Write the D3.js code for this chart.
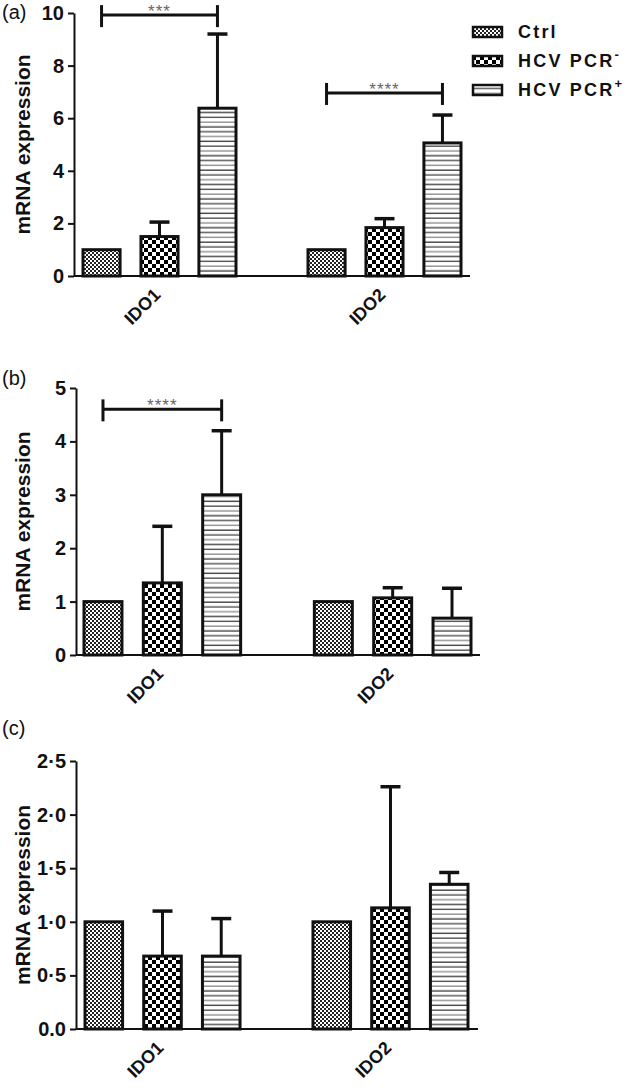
<!DOCTYPE html>
<html>
<head>
<meta charset="utf-8">
<script src="https://cdn.jsdelivr.net/npm/d3@7/dist/d3.min.js"></script>
<style>
  html, body { margin: 0; padding: 0; background: #fff; }
  svg { display: block; font-family: "Liberation Sans", Arial, sans-serif; }
</style>
</head>
<body>
<svg id="chart" width="630" height="1092"></svg>
<script>
// ---------------- data ----------------
const categories = ["IDO1", "IDO2"];
const seriesNames = ["Ctrl", "HCV PCR", "HCV PCR"];
const seriesSup = ["", "-", "+"];

// panel (a)
const meansA = [[1.0, 1.5, 6.38], [1.0, 1.84, 5.06]];
const sdA    = [[0, 0.55, 2.82], [0, 0.34, 1.06]];
const ticksA = [0, 2, 4, 6, 8, 10];
const tickLabelsA = ["0", "2", "4", "6", "8", "10"];
const sigA = [
  { cat: 0, from: 0, to: 2, level: 9.92, label: "***" },
  { cat: 1, from: 0, to: 2, level: 6.96, label: "****" }
];

// panel (b)
const meansB = [[1.0, 1.35, 3.0], [1.0, 1.07, 0.69]];
const sdB    = [[0, 1.06, 1.2], [0, 0.19, 0.56]];
const ticksB = [0, 1, 2, 3, 4, 5];
const tickLabelsB = ["0", "1", "2", "3", "4", "5"];
const sigB = [
  { cat: 0, from: 0, to: 2, level: 4.6, label: "****" }
];

// panel (c)
const meansC = [[1.0, 0.68, 0.68], [1.0, 1.13, 1.35]];
const sdC    = [[0, 0.42, 0.35], [0, 1.13, 0.11]];
const ticksC = [0, 0.5, 1.0, 1.5, 2.0, 2.5];
const tickLabelsC = ["0.0", "0·5", "1·0", "1·5", "2·0", "2·5"];
const sigC = [];

// ---------------- layout ----------------
const panels = [
  { tag: "(a)", means: meansA, sd: sdA, ticks: ticksA, labels: tickLabelsA, sig: sigA,
    x0: 74, x1: 470, yTop: 13, yBot: 276, bandL: 83, bandR: 461, tagY: 19 },
  { tag: "(b)", means: meansB, sd: sdB, ticks: ticksB, labels: tickLabelsB, sig: sigB,
    x0: 76, x1: 480, yTop: 388, yBot: 655, bandL: 84, bandR: 471, tagY: 385 },
  { tag: "(c)", means: meansC, sd: sdC, ticks: ticksC, labels: tickLabelsC, sig: sigC,
    x0: 76, x1: 478, yTop: 761, yBot: 1029, bandL: 85, bandR: 468, tagY: 735 }
];

const svg = d3.select("#chart");
const defs = svg.append("defs");

// patterns
const pCtrl = defs.append("pattern").attr("id", "patCtrl")
  .attr("patternUnits", "userSpaceOnUse").attr("width", 4).attr("height", 4);
pCtrl.append("rect").attr("width", 4).attr("height", 4).attr("fill", "#fff");
pCtrl.append("rect").attr("x", 0).attr("y", 0).attr("width", 2).attr("height", 2).attr("fill", "#222");
pCtrl.append("rect").attr("x", 2).attr("y", 2).attr("width", 2).attr("height", 2).attr("fill", "#222");

const pNeg = defs.append("pattern").attr("id", "patNeg")
  .attr("patternUnits", "userSpaceOnUse").attr("width", 8).attr("height", 8);
pNeg.append("rect").attr("width", 8).attr("height", 8).attr("fill", "#fff");
pNeg.append("rect").attr("x", 0).attr("y", 0).attr("width", 4).attr("height", 4).attr("fill", "#000");
pNeg.append("rect").attr("x", 4).attr("y", 4).attr("width", 4).attr("height", 4).attr("fill", "#000");

const pPos = defs.append("pattern").attr("id", "patPos")
  .attr("patternUnits", "userSpaceOnUse").attr("width", 8).attr("height", 14.4);
pPos.append("rect").attr("width", 8).attr("height", 14.4).attr("fill", "#fff");
[["#444", 1.5], ["#888", 6.3], ["#333", 11.1]].forEach(([c, y]) => {
  pPos.append("rect").attr("x", 0).attr("y", y).attr("width", 8).attr("height", 1.3).attr("fill", c);
});

const fills = ["url(#patCtrl)", "url(#patNeg)", "url(#patPos)"];

panels.forEach(p => {
  const g = svg.append("g");
  const y = d3.scaleLinear().domain([p.ticks[0], p.ticks[p.ticks.length - 1]]).range([p.yBot, p.yTop]);
  const xg = d3.scaleBand().domain(categories).range([p.bandL, p.bandR]).paddingInner(0.32).paddingOuter(0);
  const xs = d3.scaleBand().domain(d3.range(seriesNames.length)).range([0, xg.bandwidth()]).paddingInner(0.36).paddingOuter(0);

  // panel tag
  g.append("text").attr("x", 2).attr("y", p.tagY).attr("font-size", 20).attr("fill", "#111").text(p.tag);

  // y axis
  const yAxis = d3.axisLeft(y).tickValues(p.ticks).tickFormat((d, i) => p.labels[i])
    .tickSize(6).tickSizeOuter(0).tickPadding(4);
  const ya = g.append("g").attr("transform", `translate(${p.x0},0)`).call(yAxis);
  ya.select(".domain").attr("stroke", "#111").attr("stroke-width", 2);
  ya.selectAll(".tick line").attr("stroke", "#111").attr("stroke-width", 2);
  ya.selectAll(".tick text").attr("font-size", 20).attr("font-weight", "bold")
    .attr("font-family", "Liberation Sans, Arial, sans-serif").attr("fill", "#111");

  // y title
  g.append("text")
    .attr("transform", `translate(30,${(p.yTop + p.yBot) / 2}) rotate(-90)`)
    .attr("text-anchor", "middle").attr("font-size", 21).attr("font-weight", "bold").attr("fill", "#111")
    .text("mRNA expression");

  // bars
  categories.forEach((cat, ci) => {
    seriesNames.forEach((s, si) => {
      const v = p.means[ci][si];
      const bx = xg(cat) + xs(si);
      const bw = xs.bandwidth();
      const e = p.sd[ci][si];
      if (e > 0) {
        const cx = bx + bw / 2;
        g.append("line").attr("x1", cx).attr("x2", cx).attr("y1", y(v)).attr("y2", y(v + e))
          .attr("stroke", "#111").attr("stroke-width", 3);
        g.append("line").attr("x1", cx - 10).attr("x2", cx + 10).attr("y1", y(v + e)).attr("y2", y(v + e))
          .attr("stroke", "#111").attr("stroke-width", 3.5);
      }
      g.append("rect").attr("x", bx).attr("y", y(v)).attr("width", bw).attr("height", y(0) - y(v))
        .attr("fill", fills[si]).attr("stroke", "#111").attr("stroke-width", 3);
    });
    // x category label
    const gx = xg(cat) + xg.bandwidth() / 2;
    g.append("text")
      .attr("transform", `translate(${gx + 2},${p.yBot + 20}) rotate(-45)`)
      .attr("text-anchor", "end").attr("font-size", 18).attr("font-weight", "bold").attr("fill", "#111")
      .text(cat);
  });

  // x axis line
  g.append("line").attr("x1", p.x0).attr("x2", p.x1).attr("y1", p.yBot).attr("y2", p.yBot)
    .attr("stroke", "#111").attr("stroke-width", 2);

  // significance brackets
  p.sig.forEach(sg => {
    const cat = categories[sg.cat];
    const xa = xg(cat) + xs(sg.from) + xs.bandwidth() / 2;
    const xb = xg(cat) + xs(sg.to) + xs.bandwidth() / 2;
    const yy = y(sg.level);
    g.append("line").attr("x1", xa).attr("x2", xb).attr("y1", yy).attr("y2", yy)
      .attr("stroke", "#111").attr("stroke-width", 3);
    [xa, xb].forEach(xx => {
      g.append("line").attr("x1", xx).attr("x2", xx).attr("y1", yy - 10).attr("y2", yy + 12)
        .attr("stroke", "#111").attr("stroke-width", 3);
    });
    g.append("text").attr("x", (xa + xb) / 2).attr("y", yy + 2).attr("text-anchor", "middle")
      .attr("font-size", 17).attr("letter-spacing", 1).attr("fill", "#666").text(sg.label);
  });
});

// legend
const legY = [38, 67, 96];
const lg = svg.append("g");
seriesNames.forEach((s, i) => {
  lg.append("rect").attr("x", 473).attr("y", legY[i] - 11).attr("width", 29).attr("height", 10)
    .attr("fill", fills[i]).attr("stroke", "#111").attr("stroke-width", 2.5);
  const t = lg.append("text").attr("x", 518).attr("y", legY[i]).attr("font-size", 18)
    .attr("font-weight", "bold").attr("letter-spacing", 2.2).attr("fill", "#111");
  t.append("tspan").text(s);
  if (seriesSup[i]) {
    t.append("tspan").attr("dy", -8).attr("font-size", 13).attr("letter-spacing", 0).text(seriesSup[i]);
  }
});
</script>
</body>
</html>
